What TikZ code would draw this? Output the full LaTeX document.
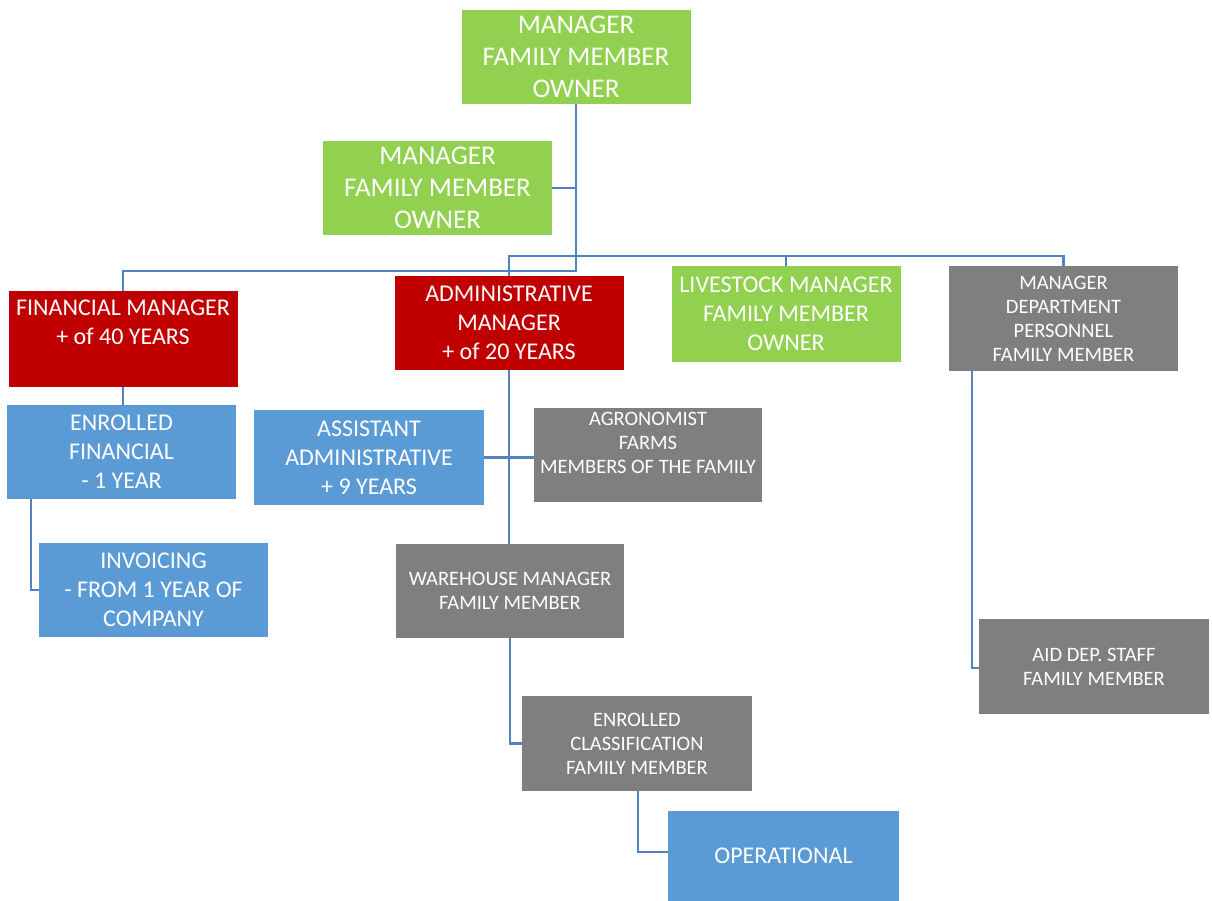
\documentclass[tikz,border=0pt]{standalone}
\usepackage{fontspec}
\setmainfont{Carlito}
\usetikzlibrary{backgrounds}
\definecolor{ownergreen}{HTML}{92D050}
\definecolor{headred}{HTML}{C00000}
\definecolor{staffblue}{HTML}{5B9BD5}
\definecolor{famgray}{HTML}{7F7F7F}
\definecolor{linkblue}{HTML}{5283BF}
\begin{document}
\begin{tikzpicture}[
    x=1pt, y=-1pt,
    block/.style={rectangle, inner sep=0pt, minimum width=229pt, minimum height=94pt, align=center, text=white},
    bigtext/.style={font=\fontsize{27}{32}\selectfont},
    midtext/.style={font=\fontsize{24}{29}\selectfont},
    smalltext/.style={font=\fontsize{20.5}{24}\selectfont},
    green/.style={block, fill=ownergreen},
    red/.style={block, fill=headred, midtext},
    blue/.style={block, fill=staffblue, midtext},
    gray/.style={block, fill=famgray, smalltext},
    link/.style={draw=linkblue, line width=2.5pt},
]
\useasboundingbox (0,0) rectangle (1212,901);

% --- Row 1: Owners ---
\node[green, bigtext] (owner) at (576, 57) {MANAGER\\FAMILY MEMBER\\OWNER};
\node[green, bigtext] (owner2) at (437.5, 188) {MANAGER\\FAMILY MEMBER\\OWNER};

% --- Row 2: Department heads ---
\node[red, minimum height=96pt, text depth=34pt] (fin) at (123, 339) {FINANCIAL MANAGER\\+ of 40 YEARS};
\node[red] (admin) at (509, 323) {ADMINISTRATIVE\\MANAGER\\+ of 20 YEARS};
\node[green, midtext, minimum height=96pt] (stock) at (786, 314) {LIVESTOCK MANAGER\\FAMILY MEMBER\\OWNER};
\node[gray, minimum height=105pt] (dept) at (1063.5, 318.5) {MANAGER\\DEPARTMENT\\PERSONNEL\\FAMILY MEMBER};

% --- Row 3 ---
\node[blue] (enrfin) at (121.5, 452) {ENROLLED\\FINANCIAL\\- 1 YEAR};
\node[blue, minimum width=230pt, minimum height=95pt] (assist) at (369, 457.5) {ASSISTANT\\ADMINISTRATIVE\\+ 9 YEARS};
\node[gray, minimum width=228pt, text depth=24pt] (agro) at (648, 455) {AGRONOMIST\\FARMS\\MEMBERS OF THE FAMILY};

% --- Row 4 ---
\node[blue] (invoice) at (153.5, 590) {INVOICING\\- FROM 1 YEAR OF\\COMPANY};
\node[gray, minimum width=228pt] (store) at (510, 591) {WAREHOUSE MANAGER\\FAMILY MEMBER};
\node[gray, minimum width=230pt, minimum height=95pt] (aid) at (1094, 666.5) {AID DEP. STAFF\\FAMILY MEMBER};

% --- Row 5 ---
\node[gray, minimum width=230pt, minimum height=95pt] (classif) at (637, 743.5) {ENROLLED\\CLASSIFICATION\\FAMILY MEMBER};
\node[blue, minimum width=231pt, minimum height=90pt] (oper) at (783.5, 856) {OPERATIONAL};

\begin{scope}[on background layer]
% === Connectors: owners to heads ===
\draw[link] (owner.south) -- ++(0,167) -| (fin.north);
\draw[link] (owner2.east) -- (owner2.east -| owner.south);
\draw[link] (admin.north) -- ++(0,-20) -| (dept.north);
\draw[link] (stock.north) -- ++(0,-10);

% === Connectors: within departments ===
\draw[link] (fin.south) -- (fin.south |- enrfin.north);
\draw[link] ([xshift=24pt]enrfin.south west) |- (invoice.west);
\draw[link] (admin.south) -- (admin.south |- store.north);
\draw[link] (assist.east) -- (assist.east -| agro.west);
\draw[link] (store.south) |- (classif.west);
\draw[link] ([xshift=1pt]classif.south) |- ([yshift=4pt]oper.west);
\draw[link] ([xshift=23pt]dept.south west) |- ([yshift=-1.5pt]aid.west);
\end{scope}

\end{tikzpicture}
\end{document}
